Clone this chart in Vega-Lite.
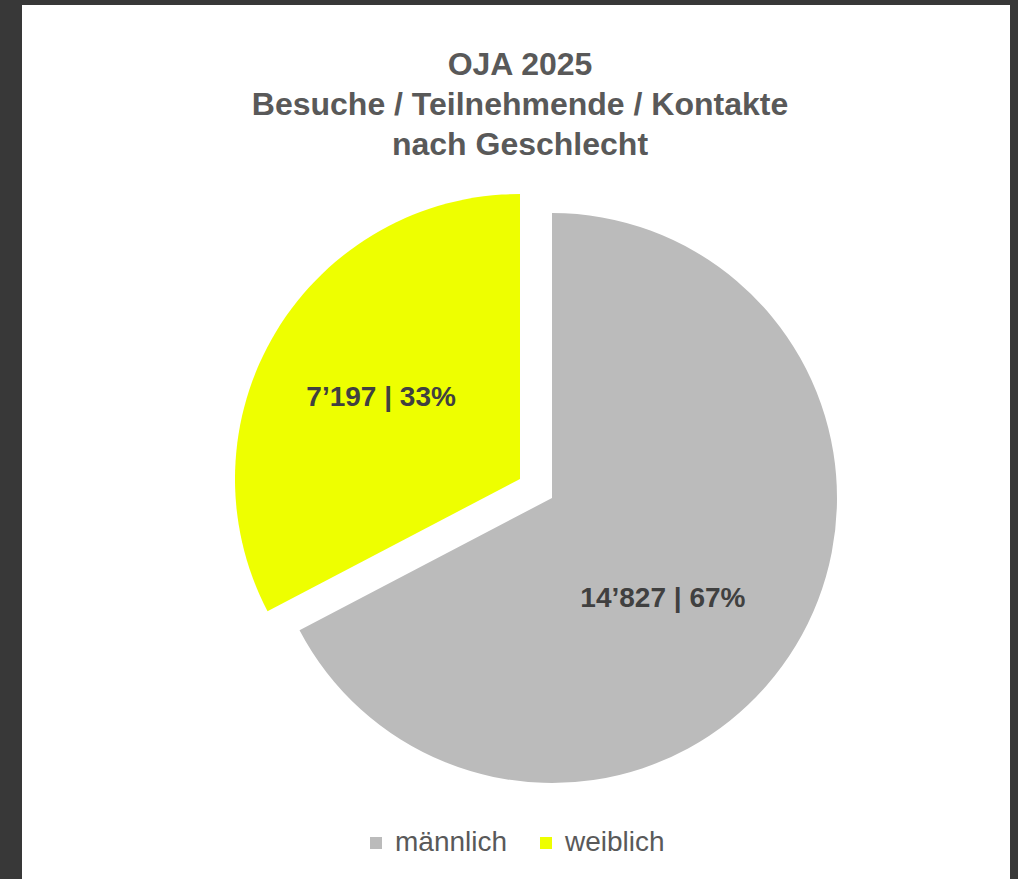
{
  "$schema": "https://vega.github.io/schema/vega-lite/v6.json",
  "width": 988,
  "height": 874,
  "autosize": {"type": "none"},
  "padding": {"left": 22, "top": 5, "right": 8, "bottom": 0},
  "background": "#383838",
  "view": {"fill": "#ffffff", "stroke": null},
  "config": {
    "view": {"fill": "#ffffff", "stroke": null},
    "font": "Liberation Sans"
  },
  "title": {
    "text": ["OJA 2025", "Besuche / Teilnehmende / Kontakte", "nach Geschlecht"],
    "fontSize": 32,
    "font": "Liberation Sans",
    "fontWeight": "bold",
    "color": "#595959",
    "lineHeight": 40,
    "anchor": "middle",
    "frame": "group",
    "dx": 4,
    "dy": 161
  },
  "data": {
    "values": [
      {"Geschlecht": "männlich", "Anzahl": 14827, "Label": "14’827  | 67%"},
      {"Geschlecht": "weiblich", "Anzahl": 7197, "Label": "7’197  | 33%"}
    ]
  },
  "layer": [
    {
      "transform": [
        {"stack": "Anzahl", "groupby": [], "sort": [{"field": "Geschlecht", "order": "ascending"}], "as": ["start", "end"]},
        {"filter": "datum.Geschlecht === 'männlich'"}
      ],
      "mark": {"type": "arc", "radius": 285, "xOffset": 36, "yOffset": 56},
      "encoding": {
        "theta": {"field": "start", "type": "quantitative", "scale": {"nice": false, "zero": true}},
        "theta2": {"field": "end"},
        "color": {
          "field": "Geschlecht", "type": "nominal",
          "scale": {"domain": ["männlich", "weiblich"], "range": ["#bbbbbb", "#eeff00"]},
          "legend": {
            "title": null,
            "orient": "none",
            "direction": "horizontal",
            "legendX": 340,
            "legendY": 824,
            "padding": 0,
            "symbolType": "square",
            "symbolSize": 144,
            "symbolStrokeWidth": 0,
            "symbolOpacity": 1,
            "labelFont": "Liberation Sans",
            "labelFontSize": 28,
            "labelColor": "#595959",
            "labelOffset": 5,
            "columnPadding": 24
          }
        }
      }
    },
    {
      "transform": [
        {"stack": "Anzahl", "groupby": [], "sort": [{"field": "Geschlecht", "order": "ascending"}], "as": ["start", "end"]},
        {"filter": "datum.Geschlecht === 'weiblich'"}
      ],
      "mark": {"type": "arc", "radius": 285, "xOffset": 4, "yOffset": 37},
      "encoding": {
        "theta": {"field": "start", "type": "quantitative"},
        "theta2": {"field": "end"},
        "color": {"field": "Geschlecht", "type": "nominal"}
      }
    },
    {
      "mark": {"type": "text", "radius": 160, "dx": 10, "dy": 74, "font": "Liberation Sans", "fontSize": 28, "fontWeight": "bold", "color": "#404040"},
      "encoding": {
        "theta": {"field": "Anzahl", "type": "quantitative", "stack": true},
        "detail": {"field": "Geschlecht"},
        "text": {"condition": {"test": "datum.Geschlecht === 'männlich'", "field": "Label"}, "value": ""}
      }
    },
    {
      "mark": {"type": "text", "radius": 160, "dx": 2, "dy": 39, "font": "Liberation Sans", "fontSize": 28, "fontWeight": "bold", "color": "#404040"},
      "encoding": {
        "theta": {"field": "Anzahl", "type": "quantitative", "stack": true},
        "detail": {"field": "Geschlecht"},
        "text": {"condition": {"test": "datum.Geschlecht === 'weiblich'", "field": "Label"}, "value": ""}
      }
    }
  ]
}
